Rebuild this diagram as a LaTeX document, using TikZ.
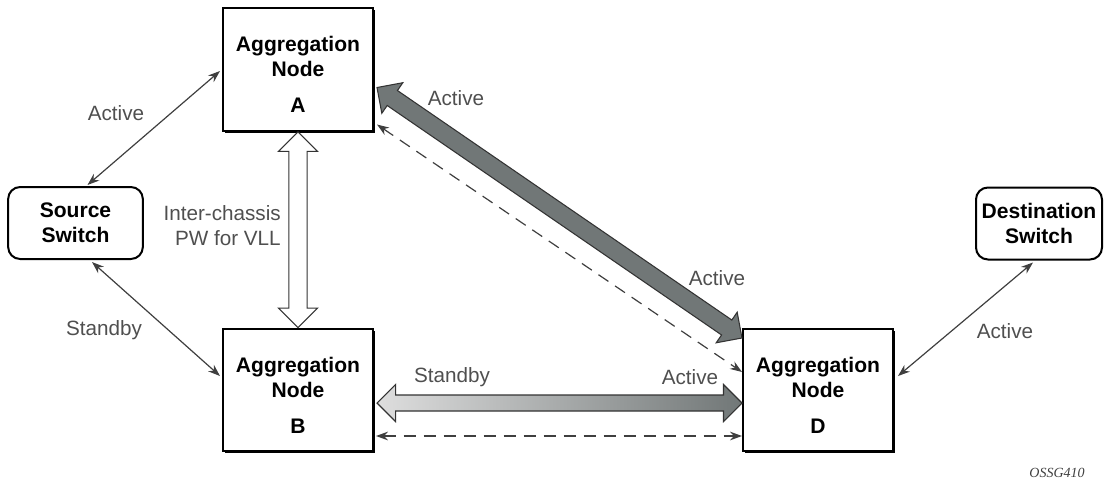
\documentclass[tikz,border=0pt]{standalone}
\usepackage{fontspec}
\setmainfont{Liberation Sans}
\newfontfamily\tagfont{Liberation Serif}
\usetikzlibrary{arrows.meta,calc,shadows,shapes.arrows}

\definecolor{linkgray}{HTML}{3F3F3F}
\definecolor{labelgray}{HTML}{4F4F4F}
\definecolor{fatgray}{HTML}{717777}
\definecolor{palegray}{HTML}{DEDEDE}

\newcommand\aggtext[1]{\rule{0pt}{19pt}Aggregation\\Node\\[8pt]#1}
\newcommand\fatlink[3]{%
  \path let \p1=(#1), \p2=(#2),
    \n1={atan2(\y2-\y1,\x2-\x1)}, \n2={veclen(\x2-\x1,\y2-\y1)} in
    node [#3, rotate=\n1, minimum height=\n2] at ($(\p1)!0.5!(\p2)$) {};}

\begin{document}
\begin{tikzpicture}[
    x=0.75pt, y=-0.75pt,
    aggnode/.style={%
      draw, fill=white,
      rectangle,
      line width=1.5pt,
      minimum width=112.5pt, minimum height=92pt,
      align=center,
      font=\fontsize{15.8}{18.75}\selectfont\bfseries,
      drop shadow={shadow xshift=1.6pt, shadow yshift=-1.6pt, opacity=1, fill=black},
    },
    switchnode/.style={%
      draw,
      rectangle, rounded corners=9pt,
      line width=1.5pt,
      minimum height=54pt,
      align=center,
      font=\fontsize{15.8}{18.75}\selectfont\bfseries,
    },
    link/.style={%
      draw=linkgray, line width=0.9pt,
      {Stealth[length=9pt,width=6.5pt]}-{Stealth[length=9pt,width=6.5pt]},
    },
    backup/.style={link, dash pattern=on 9pt off 6pt},
    tag/.style={text=labelgray, inner sep=0pt, font=\fontsize{15.5}{18.75}\selectfont},
    fatarrow/.style={%
      double arrow, draw=black!80, line width=0.8pt,
      inner xsep=0pt, double arrow tip angle=90,
    },
  ]
    \useasboundingbox (0,0) rectangle (1104,483);

    \node [aggnode] (A) at (298,69.5) {\aggtext{A}};
    \node [aggnode] (B) at (298,390) {\aggtext{B}};
    \node [aggnode] (D) at (818,390) {\aggtext{D}};
    \node [switchnode, minimum width=101pt] (src) at (75.5,223) {Source\\Switch};
    \node [switchnode, minimum width=94.5pt] (dst) at (1039,223.5) {Destination\\Switch};

    \fatlink{A.south}{B.north}{fatarrow, fill=white, inner ysep=6.4pt,
      double arrow head extend=7.9pt, minimum width=28.5pt}
    \fatlink{$(A.east)+(3,18)$}{$(D.west)+(0,-52)$}{fatarrow, fill=fatgray,
      inner ysep=6.4pt, double arrow head extend=7.1pt, minimum width=27pt}
    \fatlink{$(B.east)+(3,13)$}{$(D.west)+(0,13)$}{fatarrow,
      left color=palegray, right color=fatgray, inner ysep=5.6pt,
      double arrow head extend=7.9pt, minimum width=27pt}

    \draw [link] ($(src.north)+(12,-1)$) -- ($(A.west)+(-2,1.5)$);
    \draw [link] ($(src.south)+(16.5,2)$) -- ($(B.west)+(-2,-14)$);
    \draw [link] ($(dst.south)+(-6,2)$) -- ($(D.east)+(4,-14)$);
    \draw [backup] ($(A.east)+(3,55)$) -- ($(D.west)+(0,-18)$);
    \draw [backup] ($(B.east)+(2,46)$) -- ($(D.west)+(0,46)$);

    \node [tag] (srcA) at (116,113) {Active};
    \node [tag] (srcB) at (104,330) {Standby};
    \node [tag, align=right, anchor=east] (icpw) at (281,226) {Inter-chassis\\PW for VLL};
    \node [tag] (adA) at (456,98) {Active};
    \node [tag] (adD) at (717,278) {Active};
    \node [tag] (bdB) at (452,377) {Standby};
    \node [tag] (bdD) at (690,377) {Active};
    \node [tag] (dstD) at (1005,331) {Active};
    \node [text=linkgray, font=\tagfont\itshape\fontsize{10.5}{12}\selectfont] (fig) at (1057,473) {OSSG410};
\end{tikzpicture}
\end{document}
